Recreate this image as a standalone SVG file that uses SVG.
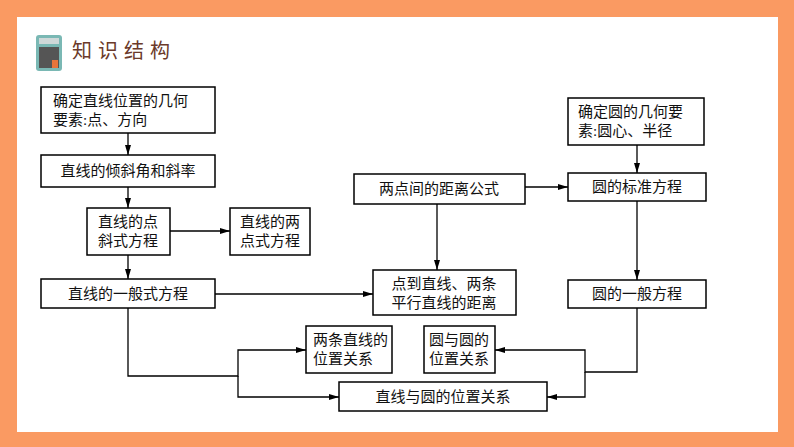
<svg xmlns="http://www.w3.org/2000/svg" width="794" height="447" viewBox="0 0 794 447">
<style>
.b{fill:#fff;stroke:#000;stroke-width:1.5}
.t{font-family:"Liberation Serif","Noto Sans CJK SC",serif;font-size:15px;fill:#111}
.c{fill:none;stroke:#000;stroke-width:1.3}
</style>
<defs><marker id="a" viewBox="0 0 10 6" refX="10" refY="3" markerWidth="10" markerHeight="6" markerUnits="userSpaceOnUse" orient="auto"><path d="M0,0L10,3L0,6z"/></marker></defs>
<rect width="794" height="447" fill="#fa9a62"/>
<rect x="17" y="17" width="761" height="415" fill="#fff"/>
<g id="icon"><rect x="36" y="35" width="26" height="36" rx="3" fill="#7ab8b4"/><rect x="39" y="38" width="20" height="6" fill="#cfd8d8"/><rect x="39" y="47" width="20" height="21" fill="#555"/><rect x="52" y="60" width="6" height="8" fill="#e8743b"/></g>
<text x="72" y="58" style="font-family:'Noto Sans CJK SC',sans-serif;font-size:20px;fill:#6b3a2a;letter-spacing:6px">知识结构</text>
<g class="c" marker-end="url(#a)">
<path d="M128,133V155"/><path d="M128,187V208"/><path d="M170,231H230"/><path d="M128,255V279"/>
<path d="M215,294H373"/><path d="M437,204V270"/><path d="M525,187H568"/><path d="M637,145V173"/><path d="M637,201V280"/>
<path d="M128,308V376H238V350H306"/><path d="M238,376V397H339"/>
<path d="M637,308V372H585V350H495"/><path d="M585,372V397H547"/>
</g>
<g id="A"><rect class="b" x="41" y="87" width="174" height="46"/><text class="t" x="53" y="106">确定直线位置的几何</text><text class="t" x="53" y="125">要素:点、方向</text></g>
<g id="B"><rect class="b" x="41" y="155" width="174" height="32"/><text class="t" x="128" y="176" text-anchor="middle">直线的倾斜角和斜率</text></g>
<g id="C"><rect class="b" x="87" y="208" width="83" height="47"/><text class="t" x="128" y="227" text-anchor="middle">直线的点</text><text class="t" x="128" y="246" text-anchor="middle">斜式方程</text></g>
<g id="D"><rect class="b" x="230" y="208" width="80" height="47"/><text class="t" x="270" y="227" text-anchor="middle">直线的两</text><text class="t" x="270" y="246" text-anchor="middle">点式方程</text></g>
<g id="E"><rect class="b" x="41" y="279" width="174" height="29"/><text class="t" x="128" y="299" text-anchor="middle">直线的一般式方程</text></g>
<g id="F"><rect class="b" x="373" y="270" width="143" height="45"/><text class="t" x="444" y="289" text-anchor="middle">点到直线、两条</text><text class="t" x="444" y="308" text-anchor="middle">平行直线的距离</text></g>
<g id="G"><rect class="b" x="354" y="174" width="171" height="30"/><text class="t" x="439" y="194" text-anchor="middle">两点间的距离公式</text></g>
<g id="H"><rect class="b" x="568" y="98" width="136" height="47"/><text class="t" x="578" y="117">确定圆的几何要</text><text class="t" x="578" y="136">素:圆心、半径</text></g>
<g id="I"><rect class="b" x="568" y="173" width="138" height="28"/><text class="t" x="637" y="192" text-anchor="middle">圆的标准方程</text></g>
<g id="J"><rect class="b" x="568" y="280" width="138" height="28"/><text class="t" x="637" y="299" text-anchor="middle">圆的一般方程</text></g>
<g id="K"><rect class="b" x="306" y="326" width="86" height="47"/><text class="t" x="313" y="345">两条直线的</text><text class="t" x="313" y="364">位置关系</text></g>
<g id="L"><rect class="b" x="424" y="326" width="71" height="47"/><text class="t" x="459" y="345" text-anchor="middle">圆与圆的</text><text class="t" x="459" y="364" text-anchor="middle">位置关系</text></g>
<g id="M"><rect class="b" x="339" y="382" width="208" height="29"/><text class="t" x="443" y="402" text-anchor="middle">直线与圆的位置关系</text></g>
</svg>
